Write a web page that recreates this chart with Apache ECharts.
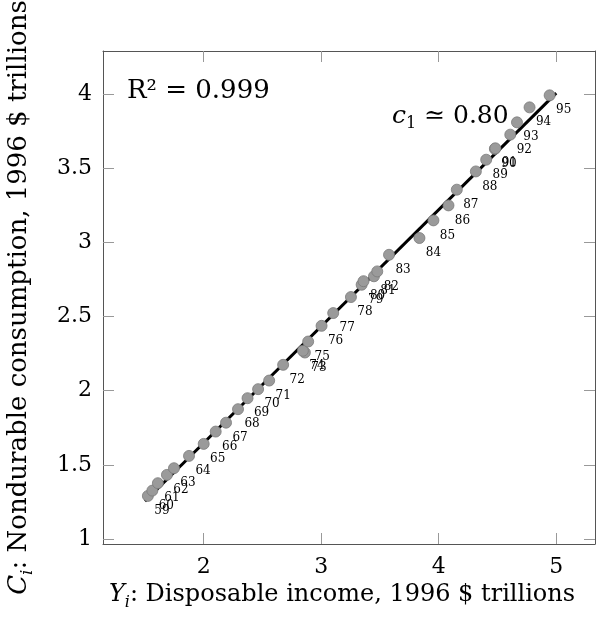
<!DOCTYPE html>
<html><head><meta charset="utf-8">
<script src="https://cdn.jsdelivr.net/npm/echarts@6/dist/echarts.min.js"></script>
<style>html,body{margin:0;padding:0;background:#fff}#c{width:597px;height:619px}</style>
</head><body><div id="c"></div>
<script>
// Data (1996 $ trillions)
const years = ['59','60','61','62','63','64','65','66','67','68','69','70','71','72','73','74','75','76','77','78','79','80','81','82','83','84','85','86','87','88','89','90','91','92','93','94','95'];
const income = [1.525,1.563,1.610,1.687,1.747,1.875,2.000,2.102,2.190,2.292,2.373,2.463,2.557,2.676,2.861,2.844,2.889,3.003,3.102,3.253,3.344,3.360,3.449,3.477,3.577,3.836,3.955,4.083,4.154,4.316,4.404,4.478,4.482,4.609,4.666,4.773,4.944];
const consumption = [1.290,1.326,1.376,1.432,1.477,1.560,1.641,1.724,1.784,1.875,1.949,2.010,2.068,2.174,2.257,2.269,2.331,2.437,2.523,2.631,2.714,2.738,2.771,2.804,2.916,3.029,3.148,3.249,3.355,3.478,3.557,3.630,3.634,3.726,3.809,3.910,3.991];
const fitX = [1.5, 5.0];
const fitY = [1.254, 4.006];
const xTicks = [2, 3, 4, 5];
const yTicks = [1, 1.5, 2, 2.5, 3, 3.5, 4];
const xRange = [1.143, 5.33];
const yRange = [0.966, 4.29];

const FONT = 'DejaVu Serif';
const chart = echarts.init(document.getElementById('c'), null, {renderer: 'canvas'});
const frame = {show: true, lineStyle: {color: '#555', width: 1}};
const tick = {show: true, inside: true, length: 11, lineStyle: {color: '#999', width: 1}};
const pts = income.map((x, i) => [x, consumption[i], years[i]]);
const fit = fitX.map((x, i) => [x, fitY[i]]);
function nameRich(fs, sub) {
  return {
    it: {fontFamily: FONT, fontSize: fs, fontStyle: 'italic', lineHeight: fs + 8, color: '#000'},
    sub: {fontFamily: FONT, fontSize: sub, fontStyle: 'italic', lineHeight: sub, verticalAlign: 'bottom', color: '#000'},
    n: {fontFamily: FONT, fontSize: fs, lineHeight: fs + 8, color: '#000'}
  };
}

chart.setOption({
  animation: false,
  grid: {left: 103, right: 2, top: 51, bottom: 75, containLabel: false, outerBoundsMode: 'none'},
  xAxis: [{
    type: 'value', min: xRange[0], max: xRange[1], position: 'bottom',
    axisLine: frame, splitLine: {show: false},
    axisTick: Object.assign({customValues: xTicks}, tick),
    axisLabel: {customValues: xTicks, fontFamily: FONT, fontSize: 22, color: '#000', margin: 12},
    name: '{it|Y}{sub|i}{n|: Disposable income, 1996 $ trillions}',
    nameLocation: 'middle', nameGap: 32,
    nameTextStyle: {fontFamily: FONT, fontSize: 24, color: '#000', padding: [0, 14, 0, 0], rich: nameRich(24, 16)}
  }, {
    type: 'value', min: xRange[0], max: xRange[1], position: 'top',
    axisLine: frame, splitLine: {show: false},
    axisTick: Object.assign({customValues: xTicks}, tick),
    axisLabel: {show: false}
  }],
  yAxis: [{
    type: 'value', min: yRange[0], max: yRange[1], position: 'left',
    axisLine: frame, splitLine: {show: false},
    axisTick: Object.assign({customValues: yTicks}, tick),
    axisLabel: {customValues: yTicks, fontFamily: FONT, fontSize: 22, color: '#000', margin: 11},
    name: '{it|C}{sub|i}{n|: Nondurable consumption, 1996 $ trillions}',
    nameLocation: 'middle', nameGap: 67,
    nameTextStyle: {fontFamily: FONT, fontSize: 26, color: '#000', rich: nameRich(26, 17)}
  }, {
    type: 'value', min: yRange[0], max: yRange[1], position: 'right',
    axisLine: frame, splitLine: {show: false},
    axisTick: Object.assign({customValues: yTicks}, tick),
    axisLabel: {show: false}
  }],
  series: [{
    type: 'line', data: fit, showSymbol: false, symbol: 'none', z: 2,
    lineStyle: {color: '#000', width: 3}
  }, {
    type: 'scatter', data: pts, symbol: 'circle', symbolSize: 11, z: 3,
    itemStyle: {color: '#9a9a9a', borderColor: '#7a7a7a', borderWidth: 0.8, opacity: 1},
    label: {show: true, position: 'inside', offset: [14, 15], formatter: p => p.data[2],
      fontFamily: FONT, fontSize: 12, color: '#000'}
  }],
  graphic: [{
    type: 'text', left: 127, top: 78,
    style: {text: 'R² = 0.999', font: '26px "DejaVu Serif"', fill: '#000'}
  }, {
    type: 'text', left: 392, top: 104,
    style: {text: '{it|c}{s|1}{n| ≃ 0.80}', fill: '#000',
      rich: {
        it: {fontFamily: FONT, fontSize: 25, fontStyle: 'italic', lineHeight: 31},
        s: {fontFamily: FONT, fontSize: 16, lineHeight: 16, verticalAlign: 'bottom'},
        n: {fontFamily: FONT, fontSize: 25, lineHeight: 31}
      }}
  }]
});
</script></body></html>
